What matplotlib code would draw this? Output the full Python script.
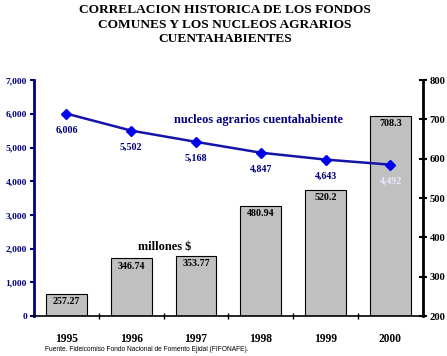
import matplotlib
matplotlib.use("Agg")
import matplotlib.pyplot as plt
from matplotlib.ticker import FuncFormatter

years = ["1995", "1996", "1997", "1998", "1999", "2000"]
fondos = [257.27, 346.74, 353.77, 480.94, 520.2, 708.3]
fondos_labels = ["257.27", "346.74", "353.77", "480.94", "520.2", "708.3"]
nucleos = [6006, 5502, 5168, 4847, 4643, 4492]

title = "CORRELACION HISTORICA DE LOS FONDOS\nCOMUNES Y LOS NUCLEOS AGRARIOS\nCUENTAHABIENTES"
line_label = "nucleos agrarios cuentahabiente"
bar_label = "millones $"
source = "Fuente. Fideicomiso Fondo Nacional de Fomento Ejidal (FIFONAFE)."

SERIF = "Liberation Serif"
NAVY = "#000080"

fig = plt.figure(figsize=(4.47, 3.56), dpi=100)
fig.patch.set_facecolor("white")
ax = fig.add_axes([0.076, 0.112, 0.870, 0.663])
ax2 = ax.twinx()

x = list(range(len(years)))

# bars on right axis
ax2.bar(x, [v - 200 for v in fondos], bottom=200, width=0.63, color="#C0C0C0",
        edgecolor="black", linewidth=0.8, zorder=1)
ax2.set_ylim(200, 800)
ax2.set_yticks(range(200, 801, 100))
for xi, v, lab in zip(x, fondos, fondos_labels):
    ax2.text(xi, v - 8, lab, ha="center", va="top", fontsize=7.2,
             fontfamily=SERIF, fontweight="bold", color="black", zorder=3)

# line on left axis, drawn above bars
ax.set_zorder(ax2.get_zorder() + 1)
ax.patch.set_visible(False)
ax.plot(x, nucleos, color="#1414A8", linewidth=1.8, marker="D", markersize=5,
        markerfacecolor="#0000EE", markeredgecolor="#0000EE", zorder=4)
for i, (xi, v) in enumerate(zip(x, nucleos)):
    col = "#E8E8FF" if i == len(x) - 1 else NAVY
    ax.annotate(f"{v:,}", (xi, v), xytext=(0, -8.5), textcoords="offset points",
                ha="center", va="top", fontsize=7.2, fontfamily=SERIF,
                fontweight="bold", color=col, zorder=5)
ax.set_ylim(0, 7000)
ax.set_yticks(range(0, 7001, 1000))
ax.yaxis.set_major_formatter(FuncFormatter(lambda v, p: f"{int(v):,}"))
ax.set_xlim(-0.5, len(x) - 0.5)
ax.set_xticks(x)
ax.set_xticklabels(years)
ax.set_xticks([i + 0.5 for i in range(len(x) - 1)], minor=True)

# styling
for a in (ax, ax2):
    for s in a.spines.values():
        s.set_visible(False)
ax.spines["left"].set_visible(True)
ax.spines["left"].set_color(NAVY)
ax.spines["left"].set_linewidth(2)
ax.spines["bottom"].set_visible(True)
ax.spines["bottom"].set_color("black")
ax.spines["bottom"].set_linewidth(1.2)
ax2.spines["right"].set_visible(True)
ax2.spines["right"].set_color("black")
ax2.spines["right"].set_linewidth(2)

ax.tick_params(axis="y", colors=NAVY, labelsize=6.8, length=3, width=1.5, pad=2)
for t in ax.get_yticklabels():
    t.set_fontfamily(SERIF); t.set_fontweight("bold"); t.set_color(NAVY)
ax.tick_params(axis="x", which="major", length=0, pad=12, labelsize=8.3, colors="black")
ax.tick_params(axis="x", which="minor", length=4, direction="inout", width=1)
for t in ax.get_xticklabels():
    t.set_fontfamily(SERIF); t.set_fontweight("bold")
ax2.tick_params(axis="y", colors="black", labelsize=7.6, length=6, width=1.5,
                direction="inout", pad=2)
for t in ax2.get_yticklabels():
    t.set_fontfamily(SERIF); t.set_fontweight("bold")

# annotations
ax.text(2.97, 5820, line_label, ha="center", va="center", fontsize=8.8,
        fontfamily=SERIF, fontweight="bold", color=NAVY)
ax.text(1.51, 2050, bar_label, ha="center", va="center", fontsize=8.8,
        fontfamily=SERIF, fontweight="bold", color="black")

fig.text(0.503, 0.988, title, ha="center", va="top", fontsize=9.6,
         fontfamily=SERIF, fontweight="bold", linespacing=1.27)
fig.text(0.1, 0.017, source, ha="left", va="center", fontsize=4.8,
         fontfamily="Liberation Sans", color="black")

fig.savefig("out.png", dpi=100, facecolor="white")
